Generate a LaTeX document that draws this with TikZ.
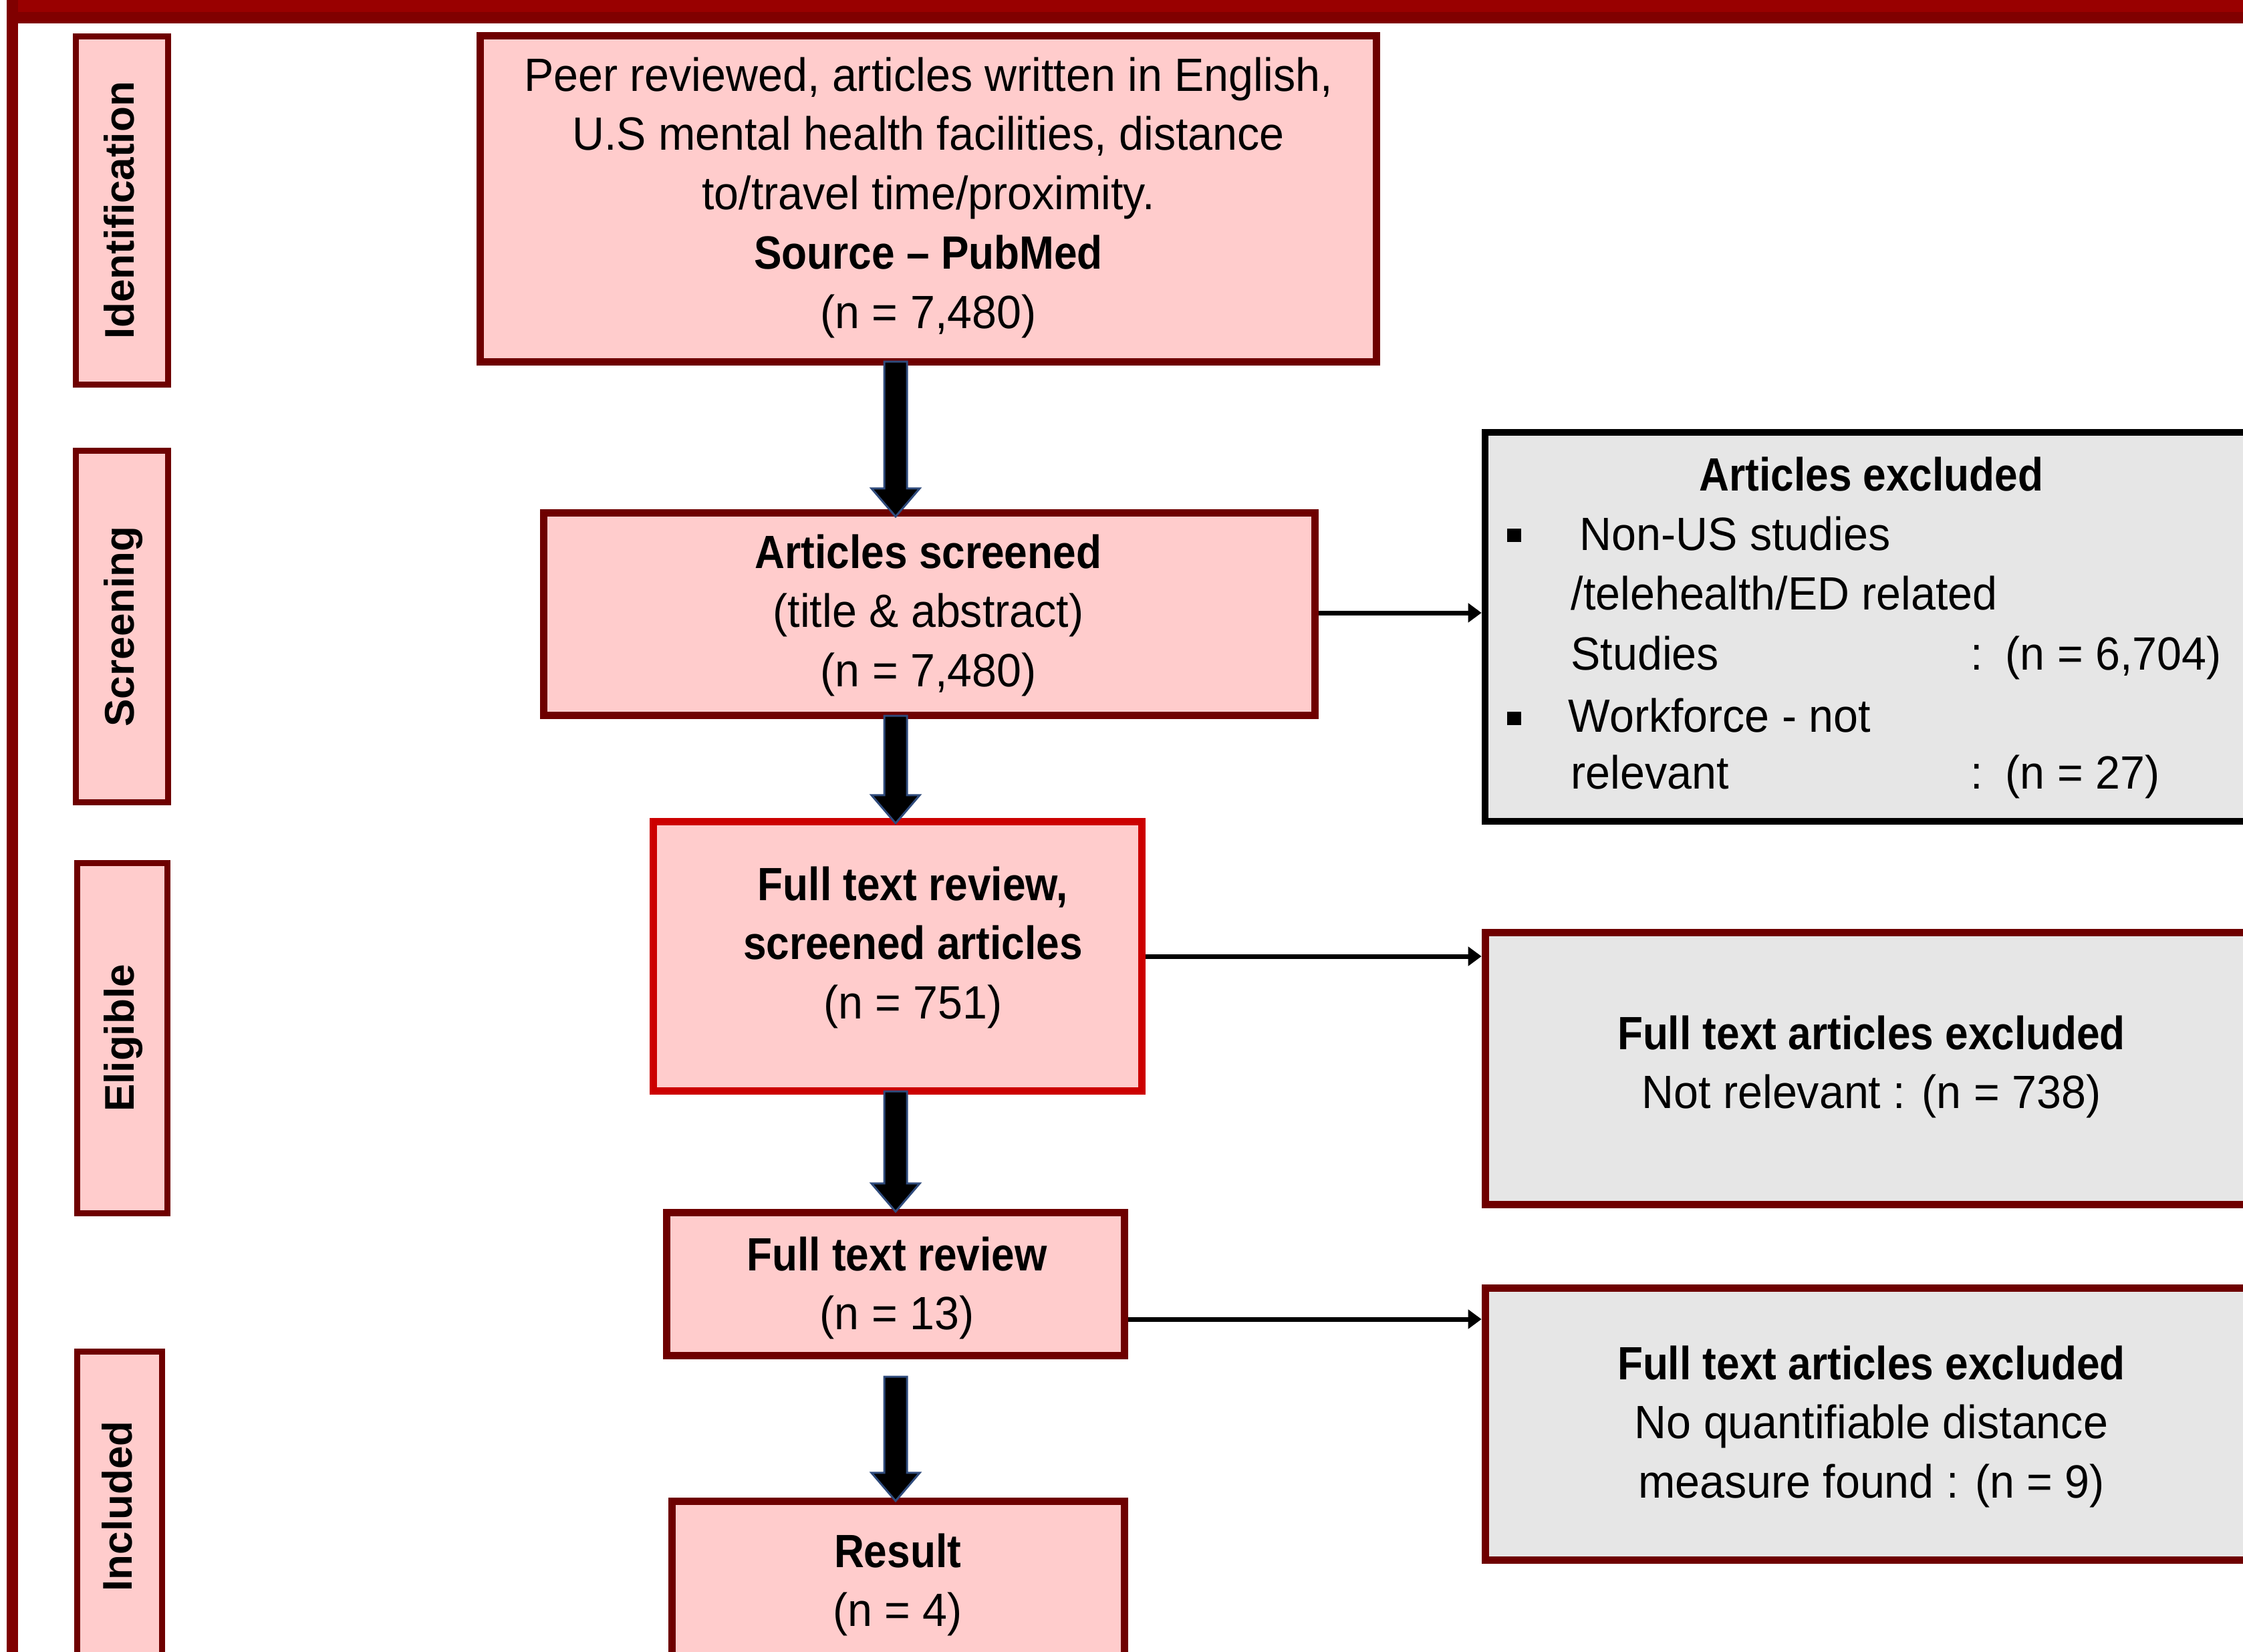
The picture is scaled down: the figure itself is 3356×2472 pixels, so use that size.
\documentclass[tikz,border=0pt]{standalone}
\usepackage{fontspec}
\setmainfont{Liberation Sans}[FakeStretch=0.95]
\newfontfamily\bsf{Liberation Sans}[FakeStretch=0.89]
\newfontfamily\labf{Liberation Sans}
\usetikzlibrary{arrows.meta,calc}
\definecolor{pinkf}{HTML}{FFCCCC}
\definecolor{greyf}{HTML}{E6E6E6}
\definecolor{dred}{HTML}{6E0000}
\definecolor{bred}{HTML}{CC0000}
\definecolor{framered}{HTML}{800000}
\definecolor{topred}{HTML}{990000}
\definecolor{arrblue}{HTML}{2F4B7C}
\newcommand\hb[1]{{\bsf\bfseries #1}}
\newcommand\barrow[2]{%
  \draw[arrblue, line width=0.03cm, fill=black, line join=miter]
    ($(#1)+(-17,0)$) -- ($(#2)+(-17,-42)$) -- ($(#2)+(-36,-42)$) -- (#2)
    -- ($(#2)+(36,-42)$) -- ($(#2)+(17,-42)$) -- ($(#1)+(17,0)$) -- cycle;}
\begin{document}
\begin{tikzpicture}[x=0.01cm,y=-0.01cm,
  pbox/.style={rectangle, draw=dred, fill=pinkf, line width=0.11cm, inner sep=0pt, outer sep=0.055cm},
  gbox/.style={rectangle, draw=dred, fill=greyf, line width=0.11cm, inner sep=0pt, outer sep=0.055cm},
  sbox/.style={rectangle, draw=dred, fill=pinkf, line width=0.09cm, inner sep=0pt, outer sep=0.045cm},
  txt/.style={inner sep=0pt, anchor=base, font=\fontsize{19.86pt}{25.3pt}\selectfont},
  ltxt/.style={txt, anchor=base west},
  lab/.style={inner sep=0pt, anchor=base, rotate=90, font=\labf\bfseries\fontsize{17.64pt}{20pt}\selectfont},
  conn/.style={draw=black, line width=0.07cm, -{Triangle[length=0.2cm,width=0.28cm]}}]
\useasboundingbox (0,0) rectangle (3356,2472);
\clip (0,0) rectangle (3356,2472);
\fill[white] (0,0) rectangle (3356,2472);
% frame
\fill[framered] (10,0) rectangle (27,2472);
\fill[framered] (10,18) rectangle (3356,35);
\fill[topred] (27,0) rectangle (3356,18);
% side labels
\node[sbox, minimum width=1.38cm, minimum height=5.21cm] (s1) at (182.5,315) {};
\node[sbox, minimum width=1.38cm, minimum height=5.26cm] (s2) at (182.5,937.5) {};
\node[sbox, minimum width=1.35cm, minimum height=5.24cm] (s3) at (183,1553.5) {};
\node[sbox, minimum width=1.27cm, minimum height=4.63cm] (s4) at (179,2254) {};
\node[lab] (l1) at (200,315) {Identification};
\node[lab] (l2) at (200,937.5) {Screening};
\node[lab] (l3) at (200,1553.5) {Eligible};
\node[lab] (l4) at (197,2254) {Included};
% main boxes
\node[pbox, minimum width=13.41cm, minimum height=4.88cm] (b1) at (1389,297.5) {};
\node[pbox, minimum width=11.54cm, minimum height=3.03cm] (b2) at (1390.5,919) {};
\node[pbox, draw=bred, minimum width=7.31cm, minimum height=4.03cm] (b3) at (1343,1431) {};
\node[pbox, minimum width=6.85cm, minimum height=2.14cm] (b4) at (1340,1921.5) {};
\node[pbox, minimum width=6.77cm, minimum height=2.48cm] (b5) at (1344,2370.5) {};
% right boxes
\node[gbox, draw=black, line width=0.10cm, outer sep=0.05cm, minimum width=11.73cm, minimum height=5.82cm] (b6) at (2808.5,938) {};
\node[gbox, minimum width=11.72cm, minimum height=4.07cm] (b7) at (2808.5,1599) {};
\node[gbox, minimum width=11.72cm, minimum height=4.07cm] (b8) at (2808.5,2131) {};
% texts
\node[txt] (t1) at (1389,136) {\begin{tabular}[t]{@{}c@{}}Peer reviewed, articles written in English,\\ U.S mental health facilities, distance\\ to/travel time/proximity.\\ \hb{Source – PubMed}\\ (n = 7,480)\end{tabular}};
\node[txt] (t2) at (1389,850) {\begin{tabular}[t]{@{}c@{}}\hb{Articles screened}\\ (title \& abstract)\\ (n = 7,480)\end{tabular}};
\node[txt] (t3) at (1366,1347) {\begin{tabular}[t]{@{}c@{}}\hb{Full text review,}\\ \hb{screened articles}\\ (n = 751)\end{tabular}};
\node[txt] (t4) at (1342,1901) {\begin{tabular}[t]{@{}c@{}}\hb{Full text review}\\ (n = 13)\end{tabular}};
\node[txt] (t5) at (1343,2345) {\begin{tabular}[t]{@{}c@{}}\hb{Result}\\ (n = 4)\end{tabular}};
\node[txt] (t6a) at (2800,734) {\hb{Articles excluded}};
\node[ltxt] (t6b) at (2363,823) {Non-US studies};
\node[ltxt] (t6c) at (2350,912) {/telehealth/ED related};
\node[ltxt] (t6d) at (2350,1002) {Studies};
\node[ltxt] (t6e) at (2948,1002) {:};
\node[ltxt] (t6f) at (3000,1002) {(n = 6,704)};
\node[ltxt] (t6g) at (2346,1095) {Workforce - not};
\node[ltxt] (t6h) at (2350,1180) {relevant};
\node[ltxt] (t6i) at (2948,1180) {:};
\node[ltxt] (t6j) at (3000,1180) {(n = 27)};
\fill[black] (2255,791) rectangle (2276,811);
\fill[black] (2255,1065) rectangle (2276,1085);
\node[txt] (t7) at (2800,1570) {\begin{tabular}[t]{@{}c@{}}\hb{Full text articles excluded}\\ Not relevant : (n = 738)\end{tabular}};
\node[txt] (t8) at (2800,2064) {\begin{tabular}[t]{@{}c@{}}\hb{Full text articles excluded}\\ No quantifiable distance\\ measure found : (n = 9)\end{tabular}};
% block arrows
\coordinate (ax) at (1340,0);
\path (ax |- b1.south) ++(0,-6) coordinate (a1s);
\path (ax |- b2.north) ++(0,11) coordinate (a1t);
\path (ax |- b2.south) ++(0,-5) coordinate (a2s);
\path (ax |- b3.north) ++(0,8) coordinate (a2t);
\path (ax |- b3.south) ++(0,-5) coordinate (a3s);
\path (ax |- b4.north) ++(0,4) coordinate (a3t);
\path (ax |- b4.south) ++(0,26) coordinate (a4s);
\path (ax |- b5.north) ++(0,5) coordinate (a4t);
\barrow{a1s}{a1t}
\barrow{a2s}{a2t}
\barrow{a3s}{a3t}
\barrow{a4s}{a4t}
% connectors
\coordinate (c1) at (0,917);
\coordinate (c2) at (0,1431);
\coordinate (c3) at (0,1974);
\draw[conn] (b2.east |- c1) -- (b6.west |- c1);
\draw[conn] (b3.east |- c2) -- (b7.west |- c2);
\draw[conn] (b4.east |- c3) -- (b8.west |- c3);
\end{tikzpicture}
\end{document}
